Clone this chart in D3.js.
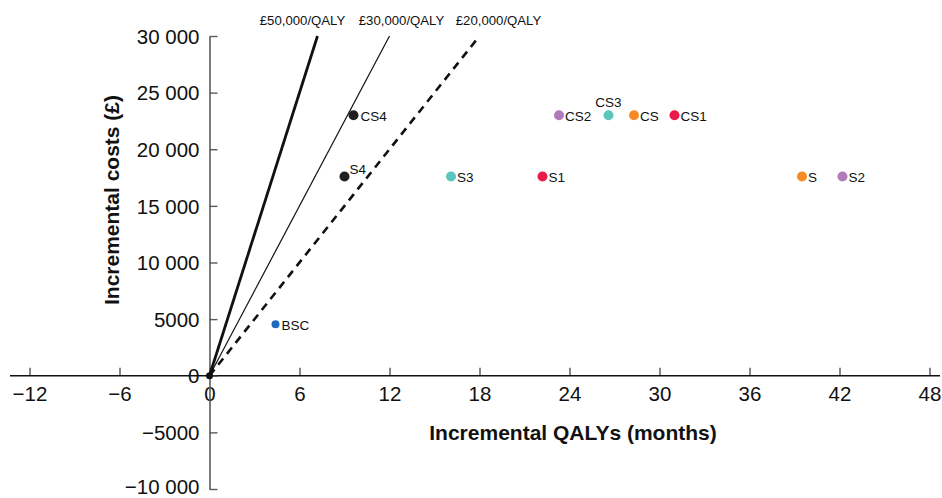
<!DOCTYPE html>
<html>
<head>
<meta charset="utf-8">
<script src="https://cdn.jsdelivr.net/npm/d3@7"></script>
<style>
  body { margin: 0; background: #fff; }
  svg { display: block; font-family: 'Liberation Sans', Arial, sans-serif; }
</style>
</head>
<body>
<svg id="chart"></svg>
<script>
const colours = {
  black: '#231f20',
  teal: '#5cc5bd',
  red: '#e9194a',
  orange: '#f68a26',
  purple: '#b17ab8',
  blue: '#1e6bbd',
  axis: '#5a5a5a',
};

// strategies: incremental QALYs (months) and incremental costs (£)
const labels = ['BSC', 'S4', 'CS4', 'S3', 'S1', 'CS2', 'CS3', 'CS', 'CS1', 'S', 'S2'];
const qalyMonths = [4.4, 9.0, 9.6, 16.1, 22.2, 23.3, 26.6, 28.3, 31.0, 39.5, 42.2];
const costs = [4550, 17600, 23000, 17600, 17600, 23000, 23000, 23000, 23000, 17600, 17600];
const groups = ['bsc', 'black', 'black', 'teal', 'red', 'purple', 'teal', 'orange', 'red', 'orange', 'purple'];

// willingness-to-pay thresholds (£ per QALY)
const thresholds = [50000, 30000, 20000];
const thresholdLabels = ['£50,000/QALY', '£30,000/QALY', '£20,000/QALY'];

const xTicks = [-12, -6, 0, 6, 12, 18, 24, 30, 36, 42, 48];
const yTicks = [-10000, -5000, 0, 5000, 10000, 15000, 20000, 25000, 30000];

const width = 942;
const height = 498;

const sel = d3.select('#chart').attr('width', width).attr('height', height);

const xScale = d3.scaleLinear().domain([-12, 48]).range([29.5, 929.5]);
const yScale = d3.scaleLinear().domain([-10000, 30000]).range([489, 36]);

const colourScale = d3
  .scaleOrdinal()
  .domain(['bsc', 'black', 'teal', 'red', 'orange', 'purple'])
  .range([colours.blue, colours.black, colours.teal, colours.red, colours.orange, colours.purple]);

// thin space as thousands separator for five-digit numbers, proper minus sign
const yFormat = d => {
  const a = Math.abs(d);
  const s = a >= 10000 ? d3.format(',')(a).replace(',', ' ') : String(a);
  return (d < 0 ? '\u2212' : '') + s;
};
const xFormat = d => (d < 0 ? '\u2212' : '') + Math.abs(d);

const tickFont = 20.5;

// x axis (ticks point up)
const xAxis = sel
  .append('g')
  .attr('transform', `translate(0,${yScale(0)})`)
  .call(
    d3.axisTop(xScale).tickValues(xTicks).tickSize(8).tickSizeOuter(0).tickFormat(xFormat),
  );
xAxis.select('.domain').remove();
xAxis
  .append('line')
  .attr('x1', 10)
  .attr('x2', 940)
  .attr('stroke', '#111')
  .attr('stroke-width', 1.6);
xAxis.selectAll('.tick line').attr('stroke', '#111').attr('stroke-width', 1);
xAxis
  .selectAll('.tick text')
  .attr('y', 25)
  .attr('fill', '#111')
  .attr('font-size', tickFont)
  .attr('font-family', 'Liberation Sans, Arial, sans-serif')
  .attr('dy', 0);

// y axis (ticks point right)
const yAxis = sel
  .append('g')
  .attr('transform', `translate(${xScale(0)},0)`)
  .call(d3.axisRight(yScale).tickValues(yTicks).tickSize(8).tickSizeOuter(0).tickFormat(yFormat));
yAxis.select('.domain').attr('stroke', colours.axis).attr('stroke-width', 1.6);
yAxis.selectAll('.tick line').attr('stroke', colours.axis).attr('stroke-width', 1.4);
yAxis
  .selectAll('.tick text')
  .attr('x', -10)
  .attr('text-anchor', 'end')
  .attr('fill', '#111')
  .attr('font-size', tickFont)
  .attr('font-family', 'Liberation Sans, Arial, sans-serif')
  .attr('dy', '0.35em');
// bottom label kept inside the picture
yAxis.selectAll('.tick text').filter(d => d === -10000).attr('dy', '0.22em');

// axis titles
sel
  .append('text')
  .attr('transform', `translate(119,${200}) rotate(-90)`)
  .attr('text-anchor', 'middle')
  .attr('font-weight', 'bold')
  .attr('font-size', 21)
  .attr('fill', '#111')
  .text('Incremental costs (£)');
sel
  .append('text')
  .attr('x', 573)
  .attr('y', 440)
  .attr('text-anchor', 'middle')
  .attr('font-weight', 'bold')
  .attr('font-size', 21)
  .attr('fill', '#111')
  .text('Incremental QALYs (months)');

// threshold lines from the origin up to the top of the cost axis
const topCost = 30000;
const lineStyles = [
  { w: 2.8, dash: null },
  { w: 1.2, dash: null },
  { w: 2.6, dash: '8,6' },
];
const labelShift = [-15, 12, 19];
thresholds.forEach((t, i) => {
  const endMonths = (topCost / t) * 12;
  sel
    .append('line')
    .attr('x1', xScale(0))
    .attr('y1', yScale(0))
    .attr('x2', xScale(endMonths))
    .attr('y2', yScale(topCost))
    .attr('stroke', '#111')
    .attr('stroke-width', lineStyles[i].w)
    .attr('stroke-dasharray', lineStyles[i].dash);
  sel
    .append('text')
    .attr('x', xScale(endMonths) + labelShift[i])
    .attr('y', 25)
    .attr('text-anchor', 'middle')
    .attr('font-size', 13.2)
    .attr('fill', '#111')
    .text(thresholdLabels[i]);
});

// origin dot
sel
  .append('circle')
  .attr('cx', xScale(0))
  .attr('cy', yScale(0))
  .attr('r', 3.5)
  .attr('fill', '#111');

const data = labels.map((label, i) => ({
  label,
  x: qalyMonths[i],
  y: costs[i],
  group: groups[i],
}));

// label placement relative to each dot
const labelOffset = d => {
  if (d.label === 'CS3') return { dx: 0, dy: -8, anchor: 'middle' };
  if (d.label === 'S4') return { dx: 5, dy: -2, anchor: 'start' };
  if (d.label === 'CS4') return { dx: 7, dy: 6, anchor: 'start' };
  return { dx: 6, dy: 6, anchor: 'start' };
};

const points = sel.append('g').selectAll('.pt').data(data).enter().append('g').classed('pt', true);
points
  .append('circle')
  .attr('cx', d => xScale(d.x))
  .attr('cy', d => yScale(d.y))
  .attr('r', d => (d.group === 'bsc' ? 4 : 5))
  .attr('fill', d => colourScale(d.group));
points
  .append('text')
  .attr('x', d => xScale(d.x) + labelOffset(d).dx)
  .attr('y', d => yScale(d.y) + labelOffset(d).dy)
  .attr('text-anchor', d => labelOffset(d).anchor)
  .attr('font-size', 13.5)
  .attr('fill', '#111')
  .text(d => d.label);
</script>
</body>
</html>
